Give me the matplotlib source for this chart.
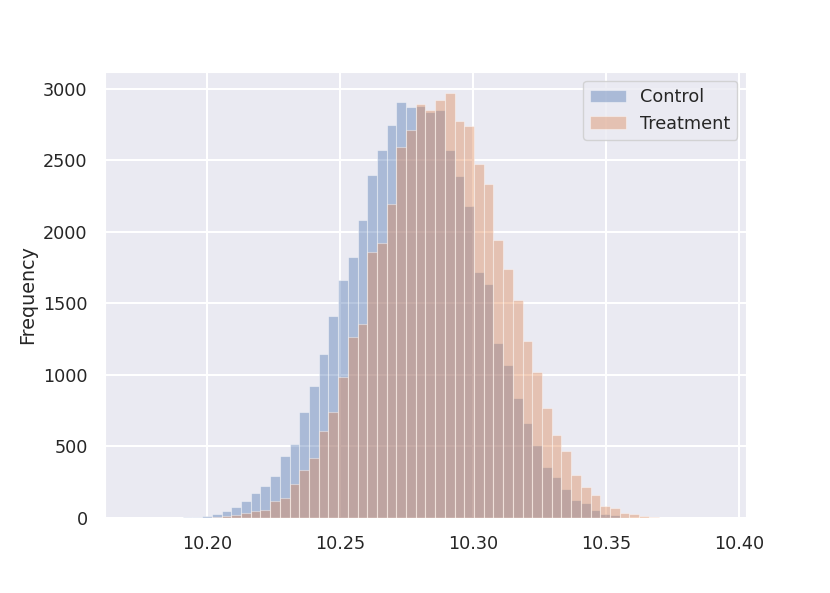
import numpy as np
import matplotlib
matplotlib.use("Agg")
import matplotlib.pyplot as plt
import seaborn as sns

# bin edges (60 equal bins over combined range)
bin_min = 10.1727
bin_max = 10.3917
n_bins = 60

# counts per bin
control = [1, 1, 1, 2, 3, 5, 7, 14, 26, 47,
           79, 116, 172, 223, 292, 433, 516, 741, 921, 1148,
           1413, 1665, 1822, 2082, 2400, 2568, 2745, 2905, 2875, 2880,
           2835, 2854, 2573, 2391, 2180, 1719, 1638, 1221, 1070, 840,
           661, 509, 356, 286, 202, 128, 105, 56, 30, 21,
           5, 2, 1, 0, 0, 0, 0, 0, 0, 0]
treatment = [0, 0, 0, 0, 0, 1, 1, 2, 7, 16,
             23, 35, 49, 59, 120, 137, 238, 335, 420, 609,
             742, 986, 1263, 1358, 1858, 1924, 2196, 2591, 2712, 2890,
             2852, 2924, 2968, 2777, 2740, 2470, 2335, 1945, 1737, 1524,
             1240, 1021, 770, 582, 465, 300, 216, 163, 84, 72,
             33, 27, 14, 6, 2, 1, 1, 0, 0, 1]
labels = ["Control", "Treatment"]

sns.set_style("darkgrid")
plt.rcParams['font.family'] = ['DejaVu Sans']
plt.rcParams['grid.linewidth'] = 1.5

edges = np.linspace(bin_min, bin_max, n_bins + 1)
centers = (edges[:-1] + edges[1:]) / 2

fig, ax = plt.subplots(figsize=(8.3, 5.93), dpi=100)
fig.subplots_adjust(left=0.1265, right=0.8988, top=0.8786, bottom=0.1265)

colors = ["#4C72B0", "#DD8452"]
for vals, lab, col in zip([control, treatment], labels, colors):
    ax.hist(centers, bins=edges, weights=vals, alpha=0.4, color=col,
            edgecolor="white", linewidth=0.8, label=lab)

ax.set_ylabel("Frequency", fontsize=13.8)
ax.tick_params(labelsize=12.7, pad=9)
ax.xaxis.set_major_formatter(matplotlib.ticker.FormatStrFormatter("%.2f"))
ax.set_xticks([10.20, 10.25, 10.30, 10.35, 10.40])
ax.set_xlim(bin_min - 0.05 * (bin_max - bin_min), bin_max + 0.05 * (bin_max - bin_min))
ax.legend(loc="upper right", fontsize=12.7)

fig.savefig("out.png", dpi=100)
